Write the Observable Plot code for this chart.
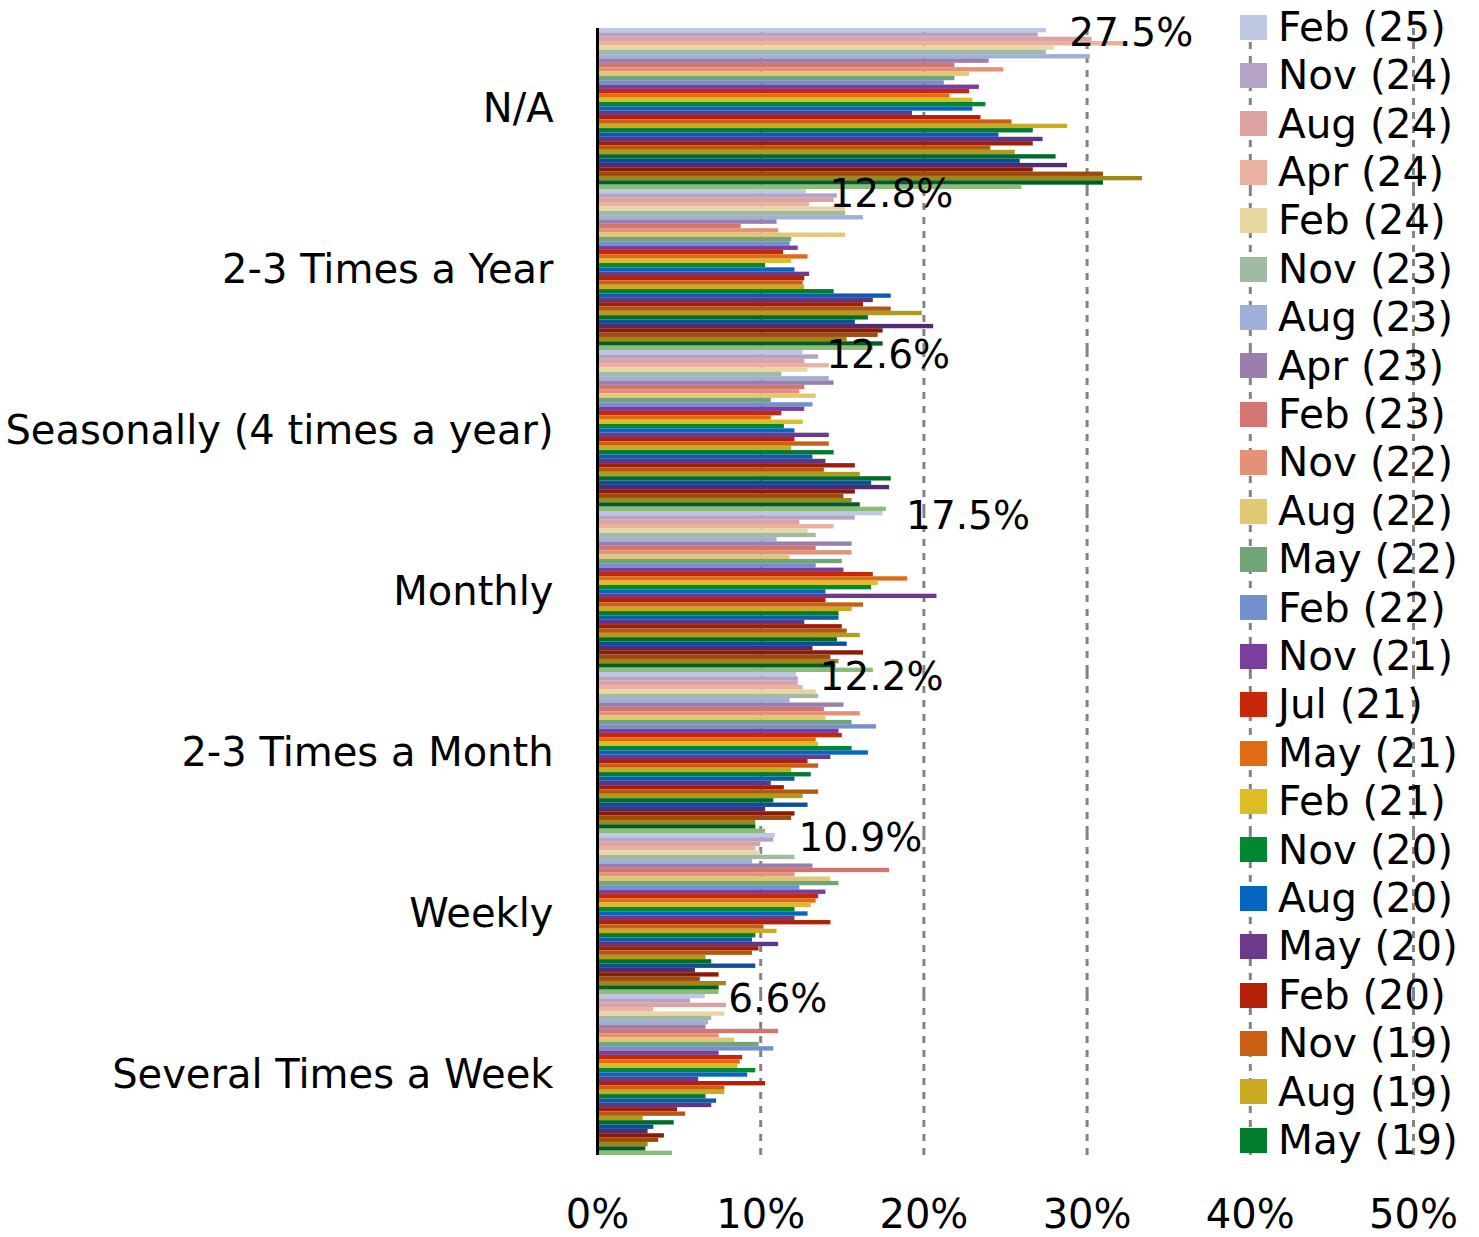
<!DOCTYPE html>
<html><head><meta charset="utf-8">
<script src="https://cdn.jsdelivr.net/npm/d3@7"></script>
<script src="https://cdn.jsdelivr.net/npm/@observablehq/plot@0.6"></script>
<style>
body{margin:0;background:#fff;}
#wrap{position:relative;width:1479px;height:1237px;font-family:"DejaVu Sans",sans-serif;}
#legend{position:absolute;left:1240px;top:0;}
.row{position:absolute;left:0;display:flex;align-items:center;height:48px;white-space:nowrap;}
.sw{width:27px;height:25px;margin-right:11px;flex:none;}
.lt{font-size:40.5px;line-height:1;color:#000;}
</style></head><body><div id="wrap"></div>
<script>
const categories = ["N/A","2-3 Times a Year","Seasonally (4 times a year)","Monthly","2-3 Times a Month","Weekly","Several Times a Week"];
const seriesNames = ["Feb (25)","Nov (24)","Aug (24)","Apr (24)","Feb (24)","Nov (23)","Aug (23)","Apr (23)","Feb (23)","Nov (22)","Aug (22)","May (22)","Feb (22)","Nov (21)","Jul (21)","May (21)","Feb (21)","Nov (20)","Aug (20)","May (20)","Feb (20)","Nov (19)","Aug (19)","May (19)","Feb (19)","Nov (18)","Aug (18)","May (18)","Feb (18)","Nov (17)","Aug (17)","May (17)","Feb (17)","Nov (16)","Aug (16)","May (16)","Feb (16)"];
const seriesColors = ["#bfc8e3","#b4a3c6","#dea2a2","#eab1a2","#e8d6a1","#a1bba2","#9eb0d7","#9a7fae","#d37570","#e49277","#e2c775","#72a478","#7290cb","#7a3f9c","#c8270a","#e06b12","#dcbd25","#018830","#0566c0","#6b3a8b","#b32007","#c95f14","#c9aa20","#007c2c","#0b5cad","#5f3685","#a11d07","#b35810","#b39a1c","#006d27","#0a4f98","#522c6e","#8c1a06","#9c4a0d","#a08618","#005e22","#8cbd78"];
const legendCount = 24;
const xTicks = [0, 0.1, 0.2, 0.3, 0.4, 0.5];

// values in % per category, in series order (Feb 25 first)
const valuesNA = [27.5,27.0,30.3,32.3,28.0,27.5,30.2,24.0,21.9,24.9,22.8,21.9,21.25,23.4,22.8,21.6,23.0,23.8,23.0,19.3,23.5,25.4,28.8,26.7,24.6,27.3,26.7,24.1,25.6,28.1,25.9,28.8,26.7,31.0,33.4,31.0,26.0];
const valuesYear = [12.8,14.7,14.5,13.0,15.2,15.2,16.3,11.0,8.8,11.1,15.2,11.9,11.8,12.3,11.4,12.9,11.9,10.3,12.1,13.0,12.7,12.6,12.7,14.5,18.0,16.9,16.3,18.0,19.9,16.6,15.8,20.6,17.5,17.2,15.3,17.5,16.9];
const valuesSeasonal = [12.6,13.55,12.7,14.2,12.9,11.3,14.2,14.5,12.7,12.4,13.4,10.65,13.2,12.7,11.3,10.65,12.6,11.45,12.1,14.2,12.1,14.2,11.9,14.5,13.2,14.0,15.8,13.9,16.1,18.0,16.8,17.9,15.8,15.1,15.6,16.1,17.7];
const valuesMonthly = [17.5,15.8,12.4,14.5,12.9,13.4,11.0,15.6,13.4,15.6,11.8,15.0,13.4,15.1,16.9,19.0,17.2,16.8,14.0,20.8,14.0,16.3,15.6,14.8,14.8,12.7,15.0,15.3,16.1,14.7,15.3,13.2,16.3,14.3,14.8,14.6,16.9];
const valuesTwoMonth = [12.2,12.3,12.3,12.6,13.4,13.55,11.8,15.1,13.9,16.1,14.0,15.6,17.1,14.8,15.0,13.4,13.55,15.6,16.6,14.3,12.9,13.55,11.9,13.1,12.1,10.65,11.45,13.55,12.6,10.8,12.9,10.3,12.1,11.9,9.7,9.7,10.3];
const valuesWeekly = [10.9,10.8,10.0,9.7,10.0,12.1,9.5,13.2,17.9,12.1,14.3,14.8,12.4,14.0,13.55,13.4,13.1,12.1,12.9,12.1,14.3,10.2,11.0,9.7,9.5,11.1,9.9,9.5,6.65,7.0,9.7,6.0,7.45,6.3,7.9,7.45,7.45];
const valuesSeveral = [6.6,5.7,7.9,3.45,7.8,7.0,6.8,6.65,11.1,7.45,8.4,9.9,10.8,7.45,8.9,8.75,8.6,9.7,9.2,6.2,10.3,7.8,7.8,6.65,7.3,7.0,4.9,5.4,2.8,4.7,3.45,3.1,4.1,3.75,3.1,2.96,4.6];

const byCategory = [valuesNA, valuesYear, valuesSeasonal, valuesMonthly, valuesTwoMonth, valuesWeekly, valuesSeveral];
const rows = [];
categories.forEach((c, ci) => seriesNames.forEach((s, si) => rows.push({cat: c, series: s, value: byCategory[ci][si] / 100})));

const chart = Plot.plot({
  width: 1479, height: 1237,
  marginLeft: 597, marginRight: 66, marginTop: 28, marginBottom: 82,
  style: {fontFamily: '"DejaVu Sans", sans-serif', fontSize: "40px", background: "transparent", color: "#000"},
  x: {domain: [0, 0.5], ticks: xTicks, tickFormat: d => Math.round(d * 100) + "%", tickSize: 0, tickPadding: 44, label: null},
  y: {domain: seriesNames, padding: 0, round: false, axis: null},
  fy: {domain: categories, padding: 0, round: false, axis: "left", tickSize: 0, tickPadding: 44, label: null},
  color: {domain: seriesNames, range: seriesColors},
  facet: {data: rows, y: "cat"},
  marks: [
    Plot.ruleX(xTicks.slice(1), {stroke: "#848484", strokeWidth: 3, strokeDasharray: "7,7"}),
    Plot.barX(rows, {y: "series", x: "value", fill: "series", inset: 0}),
    Plot.ruleX([0], {stroke: "#000", strokeWidth: 3}),
    Plot.text(rows, {filter: d => d.series === seriesNames[0], y: "series", x: "value",
      text: d => (d.value * 100).toFixed(1) + "%", dx: 23, dy: 3, textAnchor: "start", fontSize: 39, fill: "#000"})
  ]
});
const wrap = document.getElementById("wrap");
wrap.appendChild(chart);

const legend = document.createElement("div");
legend.id = "legend";
seriesNames.slice(0, legendCount).forEach((s, i) => {
  const row = document.createElement("div");
  row.className = "row";
  row.style.top = (27 + 48.4 * i - 24) + "px";
  const sw = document.createElement("div");
  sw.className = "sw";
  sw.style.background = seriesColors[i];
  const t = document.createElement("span");
  t.className = "lt";
  t.textContent = s;
  row.appendChild(sw); row.appendChild(t);
  legend.appendChild(row);
});
wrap.appendChild(legend);
</script>
</body></html>
